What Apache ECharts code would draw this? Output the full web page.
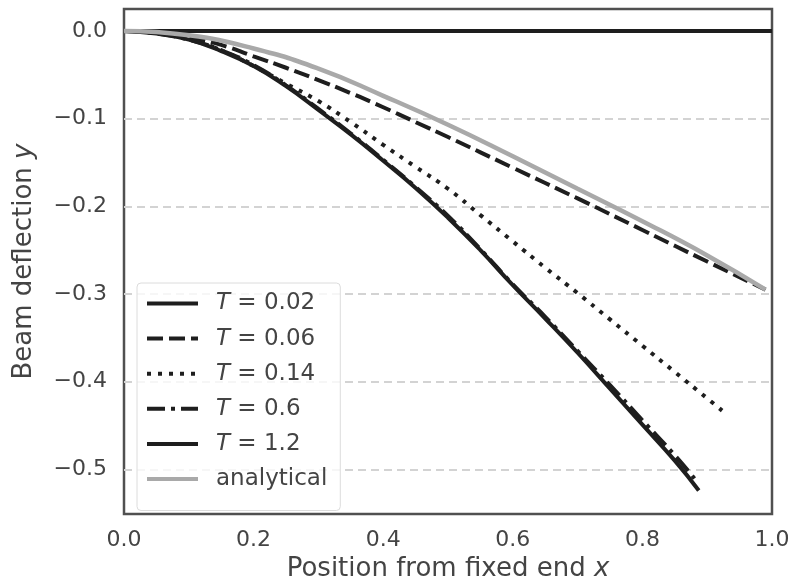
<!DOCTYPE html>
<html>
<head>
<meta charset="utf-8">
<script src="https://cdn.jsdelivr.net/npm/echarts@6/dist/echarts.min.js"></script>
<style>
  html, body { margin: 0; padding: 0; background: #fff; }
  #chart { width: 793px; height: 587px; }
</style>
</head>
<body>
<div id="chart"></div>
<script>
// Beam deflection along the span for several times T, plus the analytical static curve.
const xT002 = [0, 1.0];
const yT002 = [0, 0];

const xT006 = [0, 0.05, 0.1, 0.15, 0.2, 0.25, 0.3, 0.35, 0.4, 0.45, 0.5, 0.6, 0.7, 0.8, 0.9, 0.99];
const yT006 = [0, -0.002, -0.007, -0.016, -0.029, -0.042, -0.056, -0.071, -0.087, -0.104, -0.121, -0.156, -0.191, -0.227, -0.263, -0.295];

const xT014 = [0, 0.05, 0.1, 0.15, 0.2, 0.25, 0.3, 0.35, 0.4, 0.45, 0.5, 0.55, 0.6, 0.65, 0.7, 0.75, 0.8, 0.85, 0.9, 0.923];
const yT014 = [0, -0.002, -0.009, -0.022, -0.040, -0.060, -0.080, -0.104, -0.130, -0.155, -0.180, -0.210, -0.240, -0.270, -0.299, -0.329, -0.359, -0.389, -0.419, -0.433];

const xT06 = [0, 0.05, 0.1, 0.15, 0.2, 0.25, 0.3, 0.35, 0.4, 0.45, 0.5, 0.55, 0.6, 0.65, 0.7, 0.75, 0.8, 0.85, 0.881];
const yT06 = [0, -0.003, -0.010, -0.022, -0.039, -0.062, -0.089, -0.117, -0.147, -0.178, -0.211, -0.249, -0.289, -0.326, -0.365, -0.404, -0.444, -0.484, -0.511];

const xT12 = [0, 0.05, 0.1, 0.15, 0.2, 0.25, 0.3, 0.35, 0.4, 0.45, 0.5, 0.55, 0.6, 0.65, 0.7, 0.75, 0.8, 0.85, 0.887];
const yT12 = [0, -0.003, -0.010, -0.023, -0.040, -0.063, -0.090, -0.118, -0.148, -0.179, -0.213, -0.250, -0.290, -0.328, -0.367, -0.408, -0.449, -0.490, -0.524];

const xAnalytical = [0, 0.1, 0.2, 0.3, 0.4, 0.5, 0.6, 0.7, 0.8, 0.9, 0.99];
const yAnalytical = [0, -0.005, -0.020, -0.043, -0.074, -0.107, -0.143, -0.180, -0.217, -0.256, -0.295];

const xTicks = [0, 0.2, 0.4, 0.6, 0.8, 1.0];
const yTicks = [0, -0.1, -0.2, -0.3, -0.4, -0.5];

const FONT = 'DejaVu Sans';
const TEXT = '#444444';
const INK = '#1e1e1e';

function pairs(xs, ys) { return xs.map((x, i) => [x, ys[i]]); }
function fmt(v) {
  const s = Math.abs(v).toFixed(1);
  return v < -1e-9 ? '\u2212' + s : s;
}

function lineSeries(name, xs, ys, color, width, dash) {
  return {
    name: name,
    type: 'line',
    data: pairs(xs, ys),
    showSymbol: false,
    symbol: 'none',
    smooth: 0.5,
    lineStyle: { color: color, width: width, type: dash, cap: 'butt' },
    itemStyle: { color: color, opacity: 0 },
    emphasis: { disabled: true },
    animation: false
  };
}

const titleRich = {
  n: { color: TEXT, fontFamily: FONT, fontSize: 26 },
  i: { color: TEXT, fontFamily: FONT, fontSize: 26, fontStyle: 'italic' }
};

const chart = echarts.init(document.getElementById('chart'), null, { renderer: 'canvas' });
chart.setOption({
  animation: false,
  backgroundColor: '#ffffff',
  grid: {
    left: 124, right: 21, top: 9, bottom: 72,
    show: true, borderColor: '#505050', borderWidth: 2.5, backgroundColor: 'transparent'
  },
  xAxis: {
    type: 'value', min: 0, max: 1.0, interval: 0.2,
    axisLine: { show: false }, axisTick: { show: false },
    splitLine: { show: false },
    axisLabel: { color: TEXT, fontFamily: FONT, fontSize: 22, margin: 15, formatter: v => fmt(v),
                 customValues: xTicks },
    name: '{n|Position from fixed end }{i|x}',
    nameLocation: 'middle', nameGap: 41,
    nameTextStyle: { rich: titleRich }
  },
  yAxis: {
    type: 'value', min: -0.551, max: 0.025,
    axisLine: { show: false },
    axisTick: { show: false, customValues: yTicks },
    splitLine: { show: true, lineStyle: { color: '#d3d3d3', width: 1.8, type: [8, 5] } },
    axisLabel: { color: TEXT, fontFamily: FONT, fontSize: 22, margin: 17, formatter: v => fmt(v),
                 customValues: yTicks },
    name: '{n|Beam deflection }{i|y}',
    nameLocation: 'middle', nameGap: 87,
    nameTextStyle: { rich: titleRich }
  },
  legend: {
    left: 137, top: 283, orient: 'vertical',
    padding: [9, 13, 20, 8],
    itemWidth: 51, itemHeight: 14, itemGap: 12.1,
    backgroundColor: 'rgba(255,255,255,0.8)',
    borderColor: '#dcdcdc', borderWidth: 1, borderRadius: 4,
    selectedMode: false,
    itemStyle: { opacity: 0 },
    lineStyle: { width: 4 },
    textStyle: { color: TEXT, fontFamily: FONT, fontSize: 23, lineHeight: 22, padding: [0, 0, 0, 13],
      rich: {
        i: { color: TEXT, fontFamily: FONT, fontSize: 23, fontStyle: 'italic', lineHeight: 22 },
        n: { color: TEXT, fontFamily: FONT, fontSize: 23, lineHeight: 22 }
      }
    },
    formatter: function (name) {
      if (name.indexOf('T = ') === 0) return '{i|T}{n| = ' + name.slice(4) + '}';
      return '{n|' + name + '}';
    }
  },
  series: [
    lineSeries('T = 0.02', xT002, yT002, INK, 4, 'solid'),
    lineSeries('T = 0.06', xT006, yT006, INK, 4, [16, 6]),
    lineSeries('T = 0.14', xT014, yT014, INK, 4, [4, 7]),
    lineSeries('T = 0.6', xT06, yT06, INK, 4, [18, 6, 4, 6]),
    lineSeries('T = 1.2', xT12, yT12, INK, 4, 'solid'),
    lineSeries('analytical', xAnalytical, yAnalytical, '#a9a9a9', 4.5, 'solid')
  ]
});
</script>
</body>
</html>
